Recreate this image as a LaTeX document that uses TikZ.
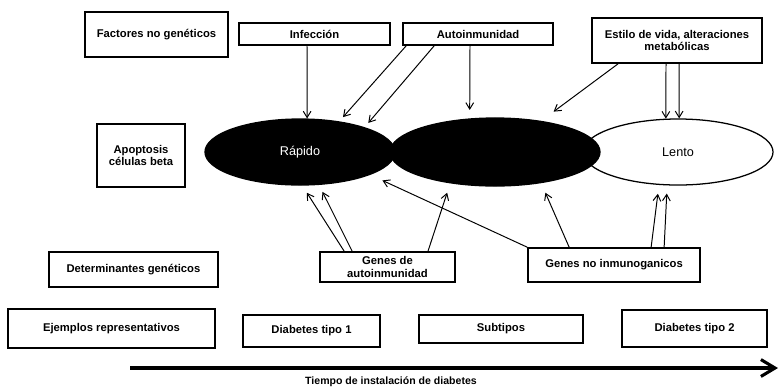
\documentclass[tikz,border=0pt]{standalone}
\usepackage{fontspec}
\setmainfont{Liberation Sans}
\usepackage{tikz}
\usetikzlibrary{positioning}
\usetikzlibrary{shapes.geometric}
\usetikzlibrary{arrows.meta,calc}

\tikzset{
  caja/.style={draw, line width=1.2pt, inner sep=1pt, align=center,
    font=\fontsize{8}{9}\selectfont\bfseries},
  fase/.style={ellipse, draw, line width=0.9pt, inner sep=0pt,
    minimum width=4.75cm, minimum height=1.65cm, font=\fontsize{9}{10}\selectfont},
  flecha/.style={-{Straight Barb[length=4.5pt,width=5.5pt]}, line width=0.7pt},
}

\begin{document}
\begin{tikzpicture}[x=0.025cm, y=-0.025cm, thick]
  \useasboundingbox (0,0) rectangle (780,390);

  % Left column labels
  \node[caja, minimum width=3.575cm, minimum height=1.125cm] (factores) at (156.5,34.5) {Factores no genéticos};
  \node[caja, minimum width=2.2cm, minimum height=1.575cm] (apoptosis) at (141,155.5) {Apoptosis\\células beta};
  \node[caja, minimum width=4.225cm, minimum height=0.875cm] (determ) at (133.5,269.5) {Determinantes genéticos};
  \node[caja, minimum width=5.175cm, minimum height=0.975cm] (ejemplos) at (111.5,328.5) {Ejemplos representativos};

  % Non genetic factors
  \node[caja, minimum width=3.775cm, minimum height=0.55cm] (infec) at (314.5,34) {Infección};
  \node[caja, minimum width=3.75cm, minimum height=0.55cm] (autoin) at (478,34) {Autoinmunidad};
  \node[caja, minimum width=4.25cm, minimum height=1.125cm] (estilo) at (677,40.5) {Estilo de vida, alteraciones\\metabólicas};

  % Beta cell loss
  \node[fase, fill=black, text=white] (rapido) at (300,152) {Rápido};
  \node[fase, fill=white] (lento) at (678,152) {Lento};
  \node[fase, fill=black, minimum width=5.25cm, minimum height=1.7cm] (medio) at (495,152) {};

  % Genetic determinants
  \node[caja, minimum width=3.375cm, minimum height=0.75cm] (genauto) at (387.5,267) {Genes de\\autoinmunidad};
  \node[caja, minimum width=4.3cm, minimum height=0.85cm] (gennoinm) at (614,265) {Genes no inmunoganicos};

  % Examples
  \node[caja, minimum width=3.425cm, minimum height=0.8cm] (tipouno) at (311.5,331) {Diabetes tipo 1};
  \node[caja, minimum width=4.1cm, minimum height=0.7cm] (subtipos) at (501,329) {Subtipos};
  \node[caja, minimum width=3.625cm, minimum height=0.925cm] (tipodos) at (694.5,328.5) {Diabetes tipo 2};

  % Arrows from above
  \draw[flecha] ($(infec.south)+(-7.5,0)$) -- (rapido.78);
  \draw[flecha, shorten >=4pt] ($(autoin.south west)+(4,0)$) -- (rapido.38);
  \draw[flecha, shorten >=4pt] ($(autoin.south west)+(32,0)$) -- (rapido.21);
  \draw[flecha, shorten >=6pt] ($(autoin.south)+(-8,0)$) -- (medio.127);
  \draw[flecha, shorten >=11pt] ($(estilo.south)+(-59,0)$) -- (medio.34);
  \draw[flecha] ($(estilo.south)+(-11,0)$) -- (lento.110);
  \draw[flecha] ($(estilo.south)+(2,0)$) -- (lento.88);

  % Arrows from below
  \draw[flecha, shorten >=6pt] ($(genauto.north west)+(25,0)$) -- (rapido.-86);
  \draw[flecha, shorten >=5.5pt] ($(genauto.north west)+(33,0)$) -- (rapido.-60);
  \draw[flecha, shorten >=7pt] ($(genauto.north)+(40.5,0)$) -- (medio.-145);
  \draw[flecha, shorten >=9.5pt] (gennoinm.north west) -- (rapido.-18);
  \draw[flecha, shorten >=7.4pt] ($(gennoinm.north west)+(42,0)$) -- (medio.-34);
  \draw[flecha, shorten >=6.3pt] ($(gennoinm.north west)+(124,0)$) -- (lento.-120);
  \draw[flecha, shorten >=5.8pt] ($(gennoinm.north west)+(137,0)$) -- (lento.-108);

  % Time axis
  \coordinate (t0) at (130,368);
  \coordinate (t1) at (778,368);
  \draw[line width=2.2pt, -{Straight Barb[length=10pt,width=12pt]}] (t0) -- (t1);
  \node[font=\fontsize{7.5}{9}\selectfont\bfseries] (tiempo) at (391,382) {Tiempo de instalación de diabetes};

\end{tikzpicture}
\end{document}
